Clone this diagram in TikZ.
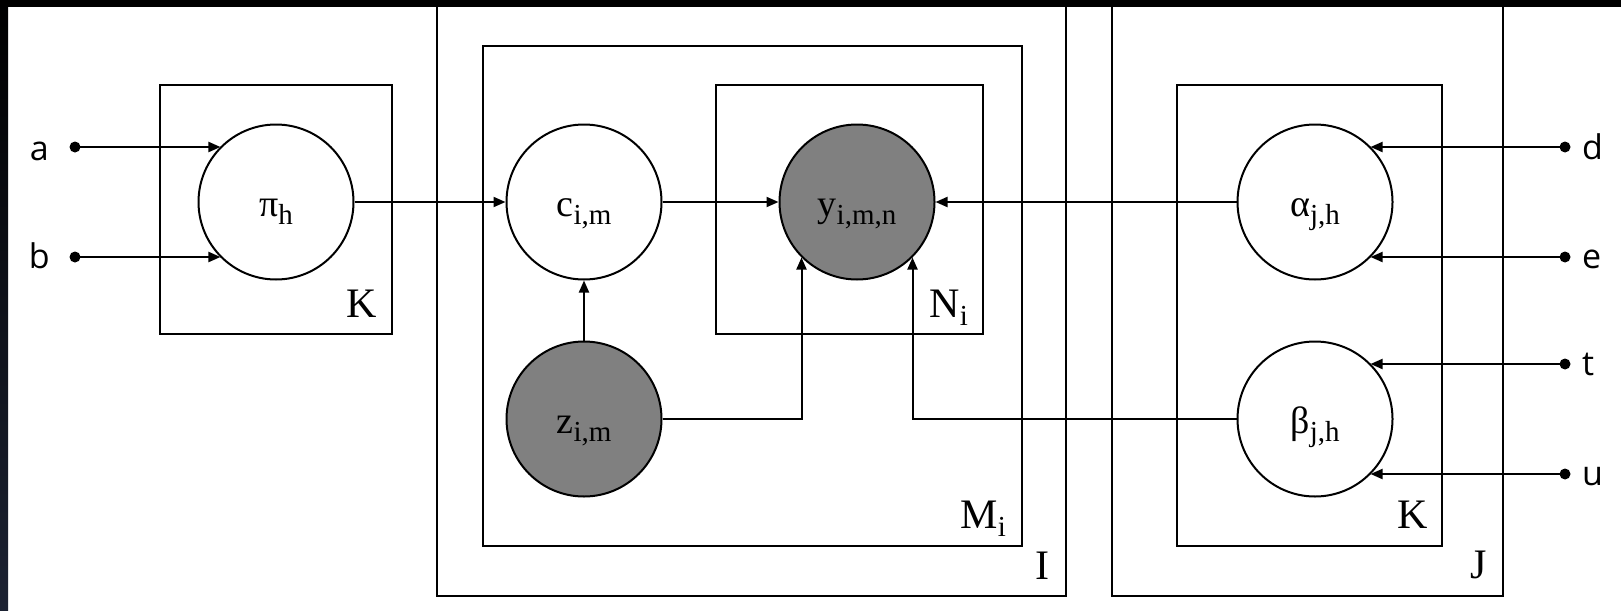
\documentclass[tikz,border=0pt]{standalone}
\usepackage{fontspec}
\setmainfont{Liberation Serif}
\newfontfamily\lblfont{Open Sans}
\usetikzlibrary{arrows.meta}
\definecolor{nodegray}{HTML}{808080}
\definecolor{barnavy}{RGB}{28,34,50}
\newcommand\sbx[1]{\raisebox{-0.2em}{\fontsize{29}{31}\selectfont #1}}
\begin{document}
\begin{tikzpicture}[x=1pt,y=-1pt,
  var/.style={circle,draw,line width=2pt,minimum size=155pt,inner sep=0pt,fill=white,
    text height=29pt,text depth=0pt,font=\fontsize{38}{40}\selectfont},
  obs/.style={var,fill=nodegray},
  plate/.style={draw,line width=2.5pt},
  platelbl/.style={anchor=base east,inner sep=0pt,font=\fontsize{42}{44}\selectfont},
  arr/.style={line width=2pt,-{Triangle[length=12pt,width=10pt]}},
  dotnode/.style={circle,fill=black,inner sep=0pt,minimum size=11pt},
  inlbl/.style={inner sep=0pt,font=\lblfont\fontsize{34}{36}\selectfont}]
\useasboundingbox (0,0) rectangle (1621,610);
\fill[white] (0,0) rectangle (1621,610);

% plates
\draw[plate] (160,85) rectangle (392,334);
\draw[plate] (437,3) rectangle (1066,596);
\draw[plate] (483,46) rectangle (1022,546);
\draw[plate] (716,85) rectangle (983,334);
\draw[plate] (1112,3) rectangle (1503,596);
\draw[plate] (1177,85) rectangle (1442,546);
\node[platelbl] (lK1) at (377,317) {K};
\node[platelbl] (lN) at (968,317) {N\sbx{i}};
\node[platelbl] (lM) at (1006,528) {M\sbx{i}};
\node[platelbl] (lI) at (1050,579) {I};
\node[platelbl] (lJ) at (1487,578) {J};
\node[platelbl] (lK2) at (1428,528) {K};

% variable nodes
\node[var] (pi) at (276,202) {π\sbx{h}};
\node[var] (c) at (584,202) {c\sbx{i,m}};
\node[obs] (y) at (857,202) {y\sbx{i,m,n}};
\node[obs] (z) at (584,419) {z\sbx{i,m}};
\node[var] (alpha) at (1315,202) {α\sbx{j,h}};
\node[var] (beta) at (1315,419) {β\sbx{j,h}};

% hyperparameter dots
\node[dotnode] (a) at (75,147) {};
\node[dotnode] (b) at (75,257) {};
\node[dotnode] (d) at (1565,147) {};
\node[dotnode] (e) at (1565,257) {};
\node[dotnode] (t) at (1565,364) {};
\node[dotnode] (u) at (1565,474) {};
\node[inlbl,anchor=base east] (la) at (49,160) {a};
\node[inlbl,anchor=base east] (lb) at (50,268) {b};
\node[inlbl,anchor=base west] (ld) at (1582,159) {d};
\node[inlbl,anchor=base west] (le) at (1582,268) {e};
\node[inlbl,anchor=base west] (lt) at (1582,375) {t};
\node[inlbl,anchor=base west] (lu) at (1582,485) {u};

% connectors
\draw[arr] (a.center) -- (a.center -| pi.135);
\draw[arr] (b.center) -- (b.center -| pi.225);
\draw[arr] (d.center) -- (d.center -| alpha.45);
\draw[arr] (e.center) -- (e.center -| alpha.-45);
\draw[arr] (t.center) -- (t.center -| beta.45);
\draw[arr] (u.center) -- (u.center -| beta.-45);
\draw[arr] (pi.east) -- (c.west);
\draw[arr] (c.east) -- (y.west);
\draw[arr] (alpha.west) -- (y.east);
\draw[arr] (z.north) -- (c.south);
\draw[arr] (z.east) -| (y.225);
\draw[arr] (beta.west) -| (y.-45);

% frame bars
\fill[black] (0,0) rectangle (1621,7.5);
\shade[top color=black,middle color=black,bottom color=barnavy] (0,0) rectangle (8,610);
\end{tikzpicture}
\end{document}
